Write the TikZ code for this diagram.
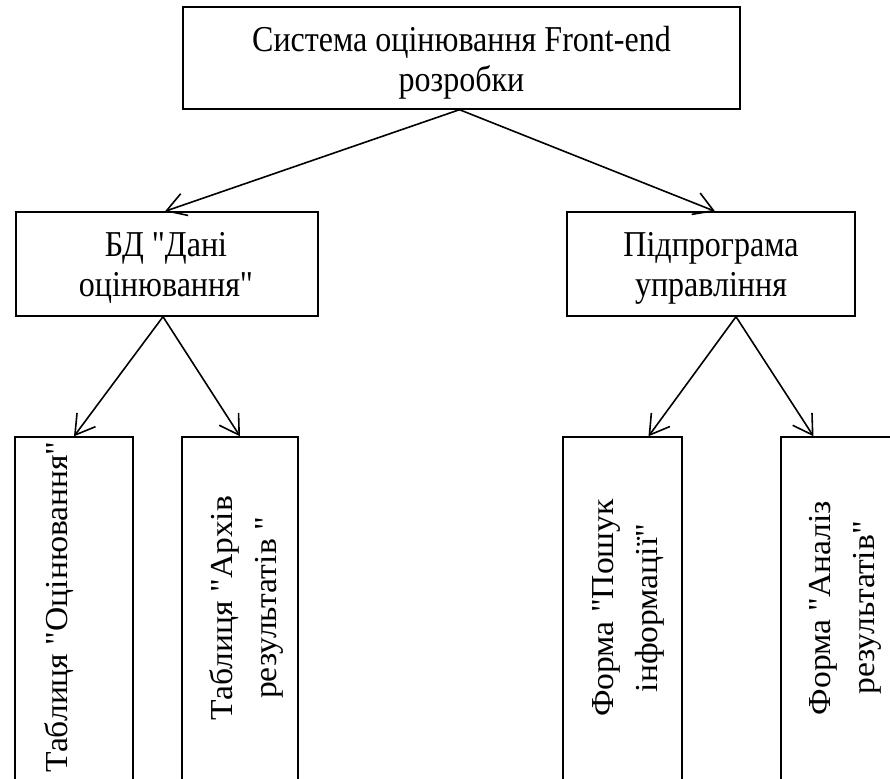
\documentclass[tikz,border=0pt]{standalone}
\usepackage{fontspec}
\setmainfont{Liberation Serif}[Ligatures=TeXOff]
\newfontfamily\hfont{Liberation Serif}[Ligatures=TeXOff, FakeStretch=0.88]
\newfontfamily\vfont{Liberation Serif}[Ligatures=TeXOff, FakeStretch=1.05]
\usetikzlibrary{arrows.meta}
\begin{document}
\begin{tikzpicture}[x=1pt,y=-1pt,
  box/.style={draw, line width=1.4pt, inner sep=0pt},
  htext/.style={inner sep=0pt, align=center, font=\hfont\fontsize{36.4}{40}\selectfont},
  vtext/.style={inner sep=0pt, align=center, rotate=90, font=\vfont\fontsize{32}{44}\selectfont},
  link/.style={line width=1.6pt, -{Straight Barb[length=19pt,width=23pt,line width=1.6pt]}}]
\useasboundingbox (0,0) rectangle (890,778);
\clip (0,0) rectangle (890,778);
% top level
\node[box, minimum width=557pt, minimum height=102pt] (sys) at (461.5,58) {};
\node[htext] (syst) at (461.5,63) {Система оцінювання Front-end\\розробки};
% second level
\node[box, minimum width=302pt, minimum height=104pt] (db) at (167,264) {};
\node[htext] (dbt) at (166,268) {БД "Дані\\оцінювання"};
\node[box, minimum width=288pt, minimum height=104pt] (ctl) at (711,264) {};
\node[htext] (ctlt) at (711,268) {Підпрограма\\управління};
% third level: tall boxes
\node[box, minimum width=118pt, minimum height=348pt] (tab1) at (74,611) {};
\node[box, minimum width=116pt, minimum height=348pt] (tab2) at (240,611) {};
\node[box, minimum width=119pt, minimum height=348pt] (frm1) at (622.5,611) {};
\node[box, minimum width=117pt, minimum height=348pt] (frm2) at (839.5,611) {};
% vertical captions
\node[vtext, anchor=base] (tab1t) at (67,607) {Таблиця "Оцінювання"};
\node[vtext] (tab2t) at (246,608) {Таблиця "Архів\\результатів "};
\node[vtext] (frm1t) at (628,608) {Форма "Пошук\\інформації"};
\node[vtext] (frm2t) at (845,608) {Форма "Аналіз\\результатів"};
% connectors
\draw[link] ([xshift=-2pt]sys.south) -- ([xshift=-2pt]db.north);
\draw[link] ([xshift=-2pt]sys.south) -- ([xshift=4pt]ctl.north);
\draw[link] ([xshift=-4pt]db.south) -- (tab1.north);
\draw[link] ([xshift=-4pt]db.south) -- (tab2.north);
\draw[link] ([xshift=25pt]ctl.south) -- ([xshift=26pt]frm1.north);
\draw[link] ([xshift=25pt]ctl.south) -- ([xshift=-26pt]frm2.north);
\end{tikzpicture}
\end{document}
